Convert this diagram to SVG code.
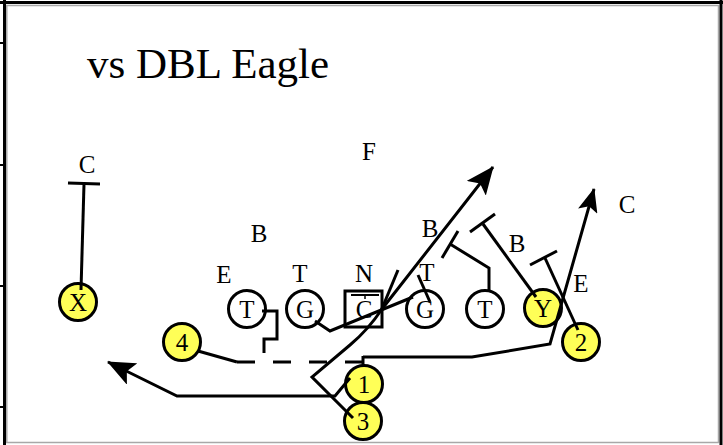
<svg xmlns="http://www.w3.org/2000/svg" width="723" height="445" viewBox="0 0 723 445">
<defs>
<marker id="ah" viewBox="0 0 28 24" refX="27" refY="12" markerWidth="28" markerHeight="24" markerUnits="userSpaceOnUse" orient="auto">
<path d="M0,0 L28,12 L0,24 L6,12 Z" fill="#000"/>
</marker>
<marker id="ah2" viewBox="0 0 24 20" refX="23" refY="10" markerWidth="24" markerHeight="20" markerUnits="userSpaceOnUse" orient="auto">
<path d="M0,0 L24,10 L0,20 L5,10 Z" fill="#000"/>
</marker>
</defs>
<rect width="723" height="445" fill="#fff"/>
<g id="frame">
<g stroke="#a8a8a8" stroke-width="1.5">
<line x1="6" y1="5.5" x2="719" y2="5.5"/>
<line x1="6.8" y1="5" x2="6.8" y2="443"/>
<line x1="6" y1="442.5" x2="719" y2="442.5"/>
<line x1="718.5" y1="5" x2="718.5" y2="443"/>
</g>
<g stroke="#000" stroke-width="3">
<line x1="0" y1="2.5" x2="723" y2="2.5"/>
<line x1="4.5" y1="0" x2="4.5" y2="445"/>
<line x1="721" y1="0" x2="721" y2="445"/>
</g>
<g stroke="#000" stroke-width="2">
<line x1="0" y1="43" x2="4" y2="43"/>
<line x1="0" y1="165" x2="4" y2="165"/>
<line x1="0" y1="286" x2="4" y2="286"/>
<line x1="0" y1="407" x2="4" y2="407"/>
</g>
</g>
<text id="title" x="87" y="78" font-family="Liberation Serif" font-size="43">vs DBL Eagle</text>
<g id="defense" font-family="Liberation Serif" font-size="25" text-anchor="middle">
<text x="87" y="173">C</text>
<text x="369" y="160">F</text>
<text x="259" y="242">B</text>
<text x="430" y="237">B</text>
<text x="517" y="252">B</text>
<text x="627" y="213">C</text>
<text x="224" y="283">E</text>
<text x="300" y="282">T</text>
<text x="364" y="282">N</text>
<text x="427" y="281">T</text>
<text x="581" y="292">E</text>
</g>
<g id="offense" font-family="Liberation Serif" font-size="25" text-anchor="middle" stroke-width="3">
<g id="node-LT"><circle fill="#fff" stroke="#000" cx="247" cy="309" r="18.5"/><text x="247" y="318">T</text></g>
<g id="node-LG"><circle fill="#fff" stroke="#000" cx="305" cy="309" r="18.5"/><text x="305" y="318">G</text></g>
<g id="node-C"><rect fill="#fff" stroke="#000" x="345" y="291" width="37" height="36"/><line stroke="#000" stroke-width="2" x1="351" y1="295" x2="379" y2="295"/><line stroke="#000" stroke-width="1.5" x1="365" y1="295" x2="365" y2="299"/><text x="364" y="318">C</text></g>
<g id="node-RG"><circle fill="#fff" stroke="#000" cx="425" cy="309" r="18.5"/><text x="425" y="318">G</text></g>
<g id="node-RT"><circle fill="#fff" stroke="#000" cx="485" cy="309" r="18.5"/><text x="485" y="318">T</text></g>
<g id="node-Y"><circle fill="#ffff57" stroke="#000" cx="543" cy="308" r="18.5"/><text x="543" y="317">Y</text></g>
<g id="node-X"><circle fill="#ffff57" stroke="#000" cx="78" cy="302" r="18.5"/><text x="78" y="311">X</text></g>
<g id="node-4"><circle fill="#ffff57" stroke="#000" cx="182" cy="342" r="18.5"/><text x="182" y="351">4</text></g>
<g id="node-1"><circle fill="#ffff57" stroke="#000" cx="364" cy="384" r="18.5"/><text x="364" y="393">1</text></g>
<g id="node-3"><circle fill="#ffff57" stroke="#000" cx="363" cy="421" r="18.5"/><text x="363" y="430">3</text></g>
<g id="node-2"><circle fill="#ffff57" stroke="#000" cx="581" cy="342" r="18.5"/><text x="581" y="351">2</text></g>
</g>
<g id="connectors" fill="none" stroke="#000" stroke-width="3">
<path d="M81,290 L84,184"/>
<path d="M68,183 L100,184"/>
<path d="M262,311 H277 V339 H264 V353"/>
<path d="M315,321 L330,331 L413,297"/>
<path d="M381,311 L398,270"/>
<path d="M430,302 L418,275"/>
<path d="M489,290 V268 L450,244"/>
<path d="M442,258 L458,231"/>
<path d="M536,297 L483,224"/>
<path d="M470,232 L495,214"/>
<path d="M578,330 L545,258"/>
<path d="M530,265 L557,251"/>
<path d="M353,418 L312,377 L350,345 Q368,330 382,309 L493,167" marker-end="url(#ah)"/>
<path d="M350,378 L335,396 L177,396 L108,362" marker-end="url(#ah)"/>
<path d="M198,351 L237,362"/>
<path d="M237,362 H363" stroke-dasharray="18 18"/>
<path d="M363,356 V367"/>
<path d="M363,357 L472,357 L550,344 L594,189" marker-end="url(#ah2)"/>
</g>
</svg>
